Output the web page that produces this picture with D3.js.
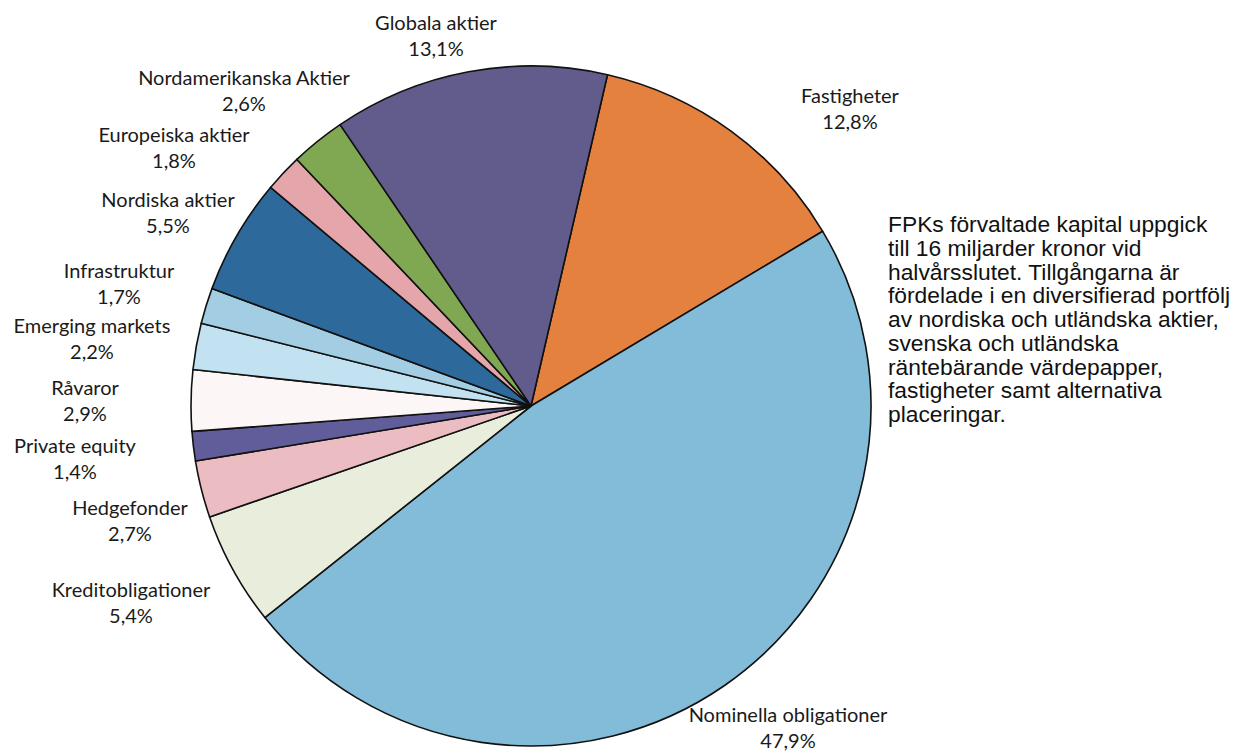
<!DOCTYPE html>
<html><head><meta charset="utf-8">
<script src="https://cdn.jsdelivr.net/npm/d3@7"></script>
<style>body{margin:0;background:#fff}svg{display:block}</style>
</head><body>
<svg id="c" width="1250" height="753"></svg>
<script>
const categories = ["Fastigheter","Nominella obligationer","Kreditobligationer","Hedgefonder","Private equity","Råvaror","Emerging markets","Infrastruktur","Nordiska aktier","Europeiska aktier","Nordamerikanska Aktier","Globala aktier"];
const values = [12.8,47.9,5.4,2.7,1.4,2.9,2.2,1.7,5.5,1.8,2.6,13.1];
const valueLabels = ["12,8%","47,9%","5,4%","2,7%","1,4%","2,9%","2,2%","1,7%","5,5%","1,8%","2,6%","13,1%"];
const colors = ["#e4813f","#83bcd9","#e8eedb","#ebbcc2","#615c9a","#fcf6f6","#c2e1f1","#a2cde3","#2d6a9b","#e4a6ab","#80a752","#625c8d"];
// label anchor positions (centre x, first baseline y)
const labelPos = [[850,103],[788,722],[131,597],[130,515],[75,453],[85,395],[92,333],[119,278],[168,207],[174,142],[244,85],[436,30]];
const noteLines = ["FPKs förvaltade kapital uppgick","till 16 miljarder kronor vid","halvårsslutet. Tillgångarna är","fördelade i en diversifierad portfölj","av nordiska och utländska aktier,","svenska och utländska","räntebärande värdepapper,","fastigheter samt alternativa","placeringar."];

const svg = d3.select("#c");
const cx = 531, cy = 406, r = 340;
const start = 13*Math.PI/180;
const pie = d3.pie().sort(null).value(d=>d).startAngle(start).endAngle(start+2*Math.PI);
const arc = d3.arc().innerRadius(0).outerRadius(r);
const g = svg.append("g").attr("transform",`translate(${cx},${cy})`);
g.selectAll("path").data(pie(values)).join("path")
  .attr("d",arc).attr("fill",(d,i)=>colors[i])
  .attr("stroke","#111").attr("stroke-width",1.6).attr("stroke-linejoin","round");

const lab = svg.append("g").attr("font-family","Lato, 'Open Sans', sans-serif").attr("font-size",20).attr("fill","#1a1a1a").attr("text-anchor","middle");
categories.forEach((c,i)=>{
  const t = lab.append("text").attr("x",labelPos[i][0]).attr("y",labelPos[i][1]);
  t.append("tspan").attr("x",labelPos[i][0]).text(c);
  t.append("tspan").attr("x",labelPos[i][0]).attr("dy",26).text(valueLabels[i]);
});

const note = svg.append("text").attr("font-family","'Liberation Sans', Arial, sans-serif").attr("font-size",22.8).attr("fill","#111").attr("x",888).attr("y",232);
noteLines.forEach((l,i)=>note.append("tspan").attr("x",888).attr("dy",i?23.75:0).text(l));
</script>
</body></html>
